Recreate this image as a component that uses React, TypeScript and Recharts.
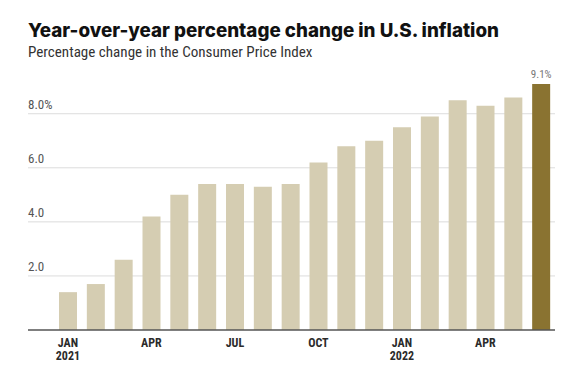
import React from 'react';
import { BarChart, Bar, XAxis, YAxis, CartesianGrid, Cell, LabelList, ReferenceLine } from 'recharts';

const months = ['JAN', 'FEB', 'MAR', 'APR', 'MAY', 'JUN', 'JUL', 'AUG', 'SEP', 'OCT', 'NOV', 'DEC', 'JAN', 'FEB', 'MAR', 'APR', 'MAY', 'JUN'];
const years = ['2021', '', '', '', '', '', '', '', '', '', '', '', '2022', '', '', '', '', ''];
const cpiChange = [1.4, 1.7, 2.6, 4.2, 5.0, 5.4, 5.4, 5.3, 5.4, 6.2, 6.8, 7.0, 7.5, 7.9, 8.5, 8.3, 8.6, 9.1];
const shownTicks = [0, 3, 6, 9, 12, 15];
const yTicks = [0, 2, 4, 6, 8];

const data = months.map((m, i) => ({ key: `${m}-${i}`, month: m, year: years[i], value: cpiChange[i] }));

const BEIGE = '#d5cdb2';
const OLIVE = '#8a7331';
const condensed = '"Liberation Sans Narrow", "Roboto Condensed", Roboto, sans-serif';

const MonthTick = (props: any) => {
  const { x, y, payload } = props;
  const i = payload.index;
  if (!shownTicks.includes(i)) return null;
  return (
    <g>
      <text x={x} y={y + 9} textAnchor="middle" fontFamily={condensed} fontWeight={700} fontSize={12} fill="#2b2b2b">
        {months[i]}
      </text>
      {years[i] && (
        <text x={x} y={y + 22} textAnchor="middle" fontFamily={condensed} fontWeight={700} fontSize={12} fill="#2b2b2b">
          {years[i]}
        </text>
      )}
    </g>
  );
};

const ValueTick = (props: any) => {
  const { y, payload } = props;
  const v = Number(payload.value);
  if (v === 0) return null;
  const label = v === 8 ? '8.0%' : v.toFixed(1);
  return (
    <text x={28} y={y - 5} textAnchor="start" fontFamily={condensed} fontSize={13} fill="#555">
      {label}
    </text>
  );
};

const LastLabel = (props: any) => {
  const { x, y, width, index } = props;
  if (index !== cpiChange.length - 1) return null;
  return (
    <text x={x + width / 2} y={y - 6} textAnchor="middle" fontFamily={condensed} fontSize={11} fill="#777">
      {`${cpiChange[index]}%`}
    </text>
  );
};

export default function App() {
  return (
    <div style={{ position: 'absolute', left: 0, top: 0, width: 570, height: 367, background: '#fff' }}>
      <div style={{ position: 'absolute', left: 28, top: 19, fontFamily: 'Inter, Lato, sans-serif', fontWeight: 800, fontSize: 18.8, color: '#111', whiteSpace: 'nowrap' }}>
        Year-over-year percentage change in U.S. inflation
      </div>
      <div style={{ position: 'absolute', left: 28, top: 43, fontFamily: condensed, fontSize: 15.1, color: '#333', whiteSpace: 'nowrap' }}>
        Percentage change in the Consumer Price Index
      </div>
      <div style={{ position: 'absolute', left: 0, top: 0 }}>
        <BarChart width={570} height={367} data={data} margin={{ top: 84, right: 15, left: 0, bottom: 0 }} barSize={18}>
          <CartesianGrid vertical={false} stroke="#dcdcdc" horizontalValues={[2, 4, 6, 8]} />
          <XAxis
            dataKey="key"
            interval={0}
            height={37}
            tick={<MonthTick />}
            tickLine={false}
            axisLine={false}
            padding={{ left: 26, right: 0 }}
          />
          <YAxis
            width={28}
            domain={[0, 9.1]}
            ticks={yTicks}
            interval={0}
            tick={<ValueTick />}
            tickLine={false}
            axisLine={false}
          />
          <Bar dataKey="value" isAnimationActive={false}>
            {data.map((d, i) => (
              <Cell key={d.key} fill={i === data.length - 1 ? OLIVE : BEIGE} />
            ))}
            <LabelList dataKey="value" content={<LastLabel />} />
          </Bar>
          <ReferenceLine y={0} stroke="#555" strokeWidth={1.5} />
        </BarChart>
      </div>
    </div>
  );
}
